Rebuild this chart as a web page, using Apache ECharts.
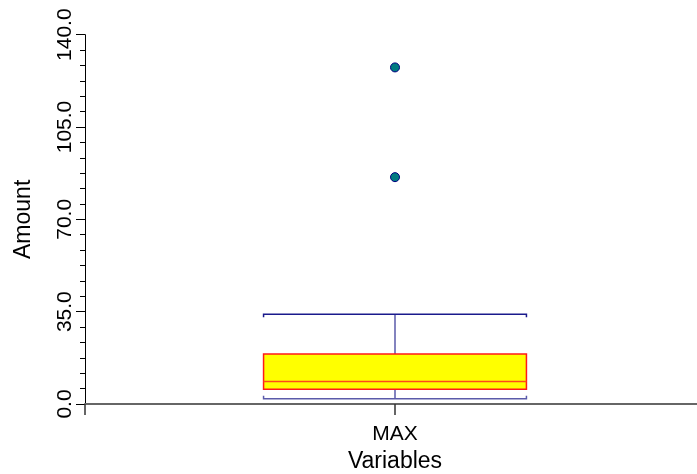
<!DOCTYPE html>
<html>
<head>
<meta charset="utf-8">
<script src="https://cdn.jsdelivr.net/npm/echarts@6/dist/echarts.min.js"></script>
<style>html,body{margin:0;padding:0;background:#fff;}#c{width:697px;height:474px;}</style>
</head>
<body>
<div id="c"></div>
<script>
// ---- data ----
const categories = ['MAX'];
const whiskerLow = [2.0];
const quartile1 = [5.6];
const medians = [8.5];
const quartile3 = [19.0];
const whiskerHigh = [34.0];
const outlierValues = [86.0, 127.6];
const outlierCategory = [0, 0];
const yTicks = [0, 35, 70, 105, 140];

const FONT = '"Liberation Sans", Arial, sans-serif';
const boxData = categories.map((c, i) => [i + 1, whiskerLow[i], quartile1[i], medians[i], quartile3[i], whiskerHigh[i]]);
const outlierData = outlierValues.map((v, i) => [outlierCategory[i] + 1, v]);

const chart = echarts.init(document.getElementById('c'));
chart.setOption({
  animation: false,
  backgroundColor: '#fff',
  grid: { left: 85, width: 620, top: 34.7, bottom: 70, containLabel: false, outerBoundsMode: 'none' },
  xAxis: {
    type: 'value', min: 0, max: categories.length + 1, interval: 1,
    name: 'Variables', nameLocation: 'middle', nameGap: 46,
    nameTextStyle: { fontFamily: FONT, fontSize: 23, color: '#000' },
    axisLine: { show: true, onZero: false, lineStyle: { color: '#666', width: 2 } },
    axisTick: { show: true, length: 11, inside: false, lineStyle: { color: '#333', width: 1.5 } },
    axisLabel: { fontFamily: FONT, fontSize: 21, color: '#000', margin: 20,
      formatter: v => (v >= 1 && v <= categories.length) ? categories[v - 1] : '' },
    splitLine: { show: false }
  },
  yAxis: {
    type: 'value', min: yTicks[0], max: yTicks[yTicks.length - 1], interval: yTicks[1] - yTicks[0],
    name: 'Amount', nameLocation: 'middle', nameGap: 50,
    nameTextStyle: { fontFamily: FONT, fontSize: 23, color: '#000' },
    axisLine: { show: true, lineStyle: { color: '#000', width: 1 } },
    axisTick: { show: true, length: 9, lineStyle: { color: '#000', width: 1 } },
    minorTick: { show: true, splitNumber: 6, length: 5, lineStyle: { color: '#000', width: 1 } },
    axisLabel: { fontFamily: FONT, fontSize: 21, color: '#000', rotate: 90, margin: 9,
      formatter: v => v.toFixed(1) },
    splitLine: { show: false }
  },
  series: [
    {
      type: 'custom',
      data: boxData,
      renderItem: function (params, api) {
        const x = api.value(0);
        const pLow = api.coord([x, api.value(1)]);
        const pQ1 = api.coord([x, api.value(2)]);
        const pMed = api.coord([x, api.value(3)]);
        const pQ3 = api.coord([x, api.value(4)]);
        const pHigh = api.coord([x, api.value(5)]);
        const half = api.size([0.848, 0])[0] / 2;
        const cx = pMed[0];
        const tk = 3;
        return {
          type: 'group',
          children: [
            { type: 'line', shape: { x1: cx, y1: pHigh[1], x2: cx, y2: pQ3[1] }, style: { stroke: '#5a5aaa', lineWidth: 1.5 } },
            { type: 'line', shape: { x1: cx, y1: pQ1[1], x2: cx, y2: pLow[1] }, style: { stroke: '#5a5aaa', lineWidth: 1.5 } },
            { type: 'rect', shape: { x: cx - half, y: pQ3[1], width: half * 2, height: pQ1[1] - pQ3[1] }, style: { fill: '#ffff00', stroke: '#ff1a1a', lineWidth: 1.5 } },
            { type: 'line', shape: { x1: cx - half, y1: pMed[1], x2: cx + half, y2: pMed[1] }, style: { stroke: '#ff4a1a', lineWidth: 1.5 } },
            { type: 'polyline', shape: { points: [[cx - half, pHigh[1] + tk], [cx - half, pHigh[1]], [cx + half, pHigh[1]], [cx + half, pHigh[1] + tk]] }, style: { stroke: '#1a1a8c', lineWidth: 1.5, fill: null } },
            { type: 'polyline', shape: { points: [[cx - half, pLow[1] - tk], [cx - half, pLow[1]], [cx + half, pLow[1]], [cx + half, pLow[1] - tk]] }, style: { stroke: '#5a5aaa', lineWidth: 1.5, fill: null } }
          ]
        };
      }
    },
    {
      type: 'scatter',
      data: outlierData,
      symbol: 'circle',
      symbolSize: 9,
      itemStyle: { color: '#007a80', borderColor: '#000080', borderWidth: 1, opacity: 1 }
    }
  ]
});
</script>
</body>
</html>
